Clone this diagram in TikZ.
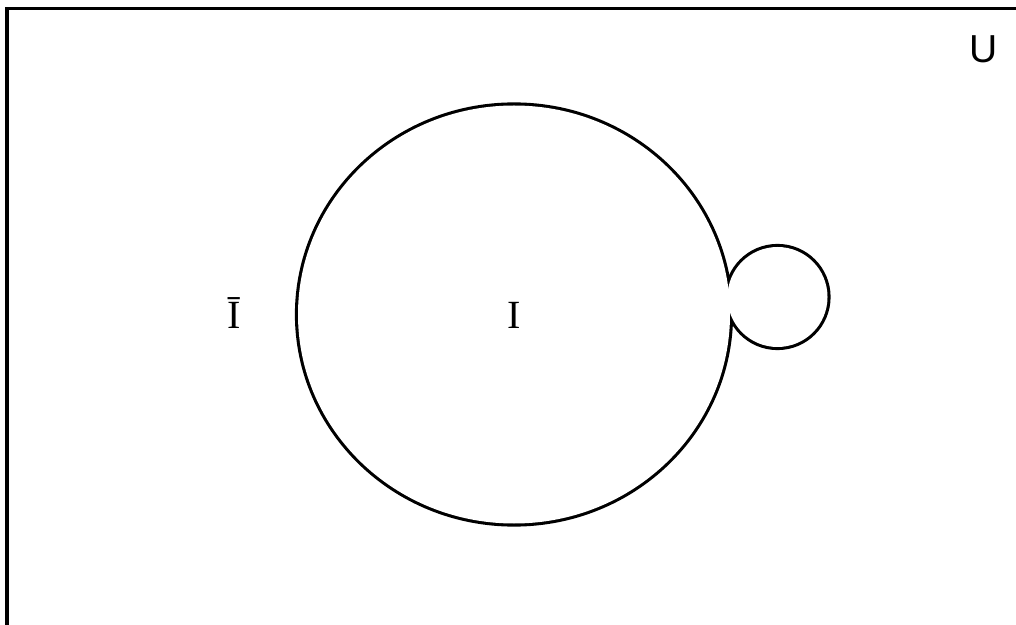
\documentclass[tikz,border=0pt]{standalone}
\usepackage{fontspec}
\setmainfont{Liberation Serif}
\newfontfamily\usansfont{Liberation Sans}
\begin{document}
\begin{tikzpicture}[x=1pt,y=1pt,
  frame/.style={line width=3.5pt,draw=black},
  setline/.style={line width=6.2pt,draw=black},
  setfill/.style={fill=white},
  serlbl/.style={font=\fontsize{40}{48}\selectfont,anchor=base,inner sep=0pt},
  unilbl/.style={font=\usansfont\fontsize{39}{46}\selectfont,anchor=base,inner sep=0pt}]
\useasboundingbox (0,0) rectangle (1016,624);
\fill[white] (0,0) rectangle (1016,624);
% universe frame
\draw[frame] (7,-30) rectangle (1050,615.5);
% set outlines (union outline: wide strokes, then white interiors)
\coordinate (bigc) at (514,309.5);
\coordinate (smallc) at (777.5,327);
\draw[setline] (bigc) ellipse [x radius=216, y radius=209];
\draw[setline] (smallc) circle [radius=50];
\fill[setfill] (bigc) ellipse [x radius=216, y radius=209];
\fill[setfill] (smallc) circle [radius=50];
% labels
\node[unilbl] (U) at (984,561) {U};
\node[serlbl] (I) at (514.5,295) {I};
\node[serlbl] (Ibar) at (234,295) {Ī};
\end{tikzpicture}
\end{document}
